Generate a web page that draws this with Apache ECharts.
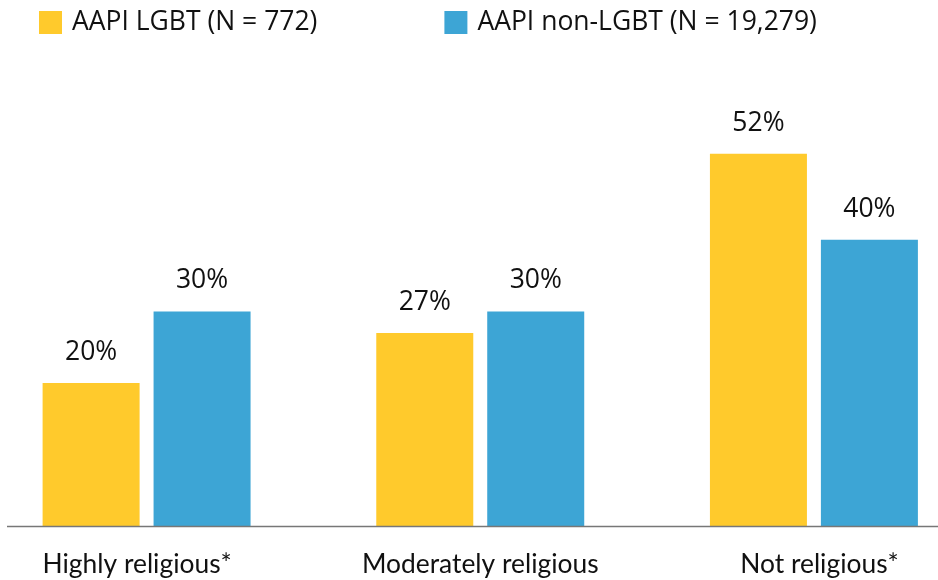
<!DOCTYPE html>
<html><head><meta charset="utf-8">
<script src="https://cdn.jsdelivr.net/npm/echarts@6/dist/echarts.min.js"></script>
<style>html,body{margin:0;padding:0;background:#fff}#c{width:938px;height:580px}</style>
</head><body><div id="c"></div>
<script>
const categories = ['Highly religious*', 'Moderately religious', 'Not religious*'];
const seriesNames = ['AAPI LGBT (N = 772)', 'AAPI non-LGBT (N = 19,279)'];
const lgbtValues = [20, 27, 52];
const nonLgbtValues = [30, 30, 40];
const colors = ['#FFCA2C', '#3DA5D5'];

const chart = echarts.init(document.getElementById('c'), null, {renderer: 'canvas'});
const labelStyle = {show: true, position: 'top', distance: 17, formatter: p => p.value + '%',
  fontFamily: 'Open Sans', fontSize: 26.5, color: '#111'};
const catStyles = ['c0', 'c1', 'c2'];
const baseCat = {fontFamily: 'Lato', fontSize: 26.4, color: '#111'};
chart.setOption({
  animation: false,
  legend: {
    top: 9, left: 39, padding: 0, itemWidth: 23, itemHeight: 23, itemGap: 127, icon: 'rect',
    textStyle: {fontFamily: 'Open Sans', fontSize: 26.5, color: '#111', padding: [0, 0, 0, 5]},
    data: seriesNames
  },
  grid: {left: -20.25, right: -42.75, top: 96.3, bottom: 53.5, outerBoundsMode: 'none', containLabel: false},
  xAxis: {
    type: 'category', data: categories,
    axisLine: {show: false}, axisTick: {show: false},
    axisLabel: {
      interval: 0, hideOverlap: false,
      margin: 25, ...baseCat,
      formatter: (v, i) => '{' + catStyles[i] + '|' + v + '}',
      rich: {
        c0: {...baseCat, padding: [0, 19, 0, 0]},
        c1: {...baseCat},
        c2: {...baseCat, padding: [0, 0, 0, 11]}
      }
    }
  },
  yAxis: {type: 'value', min: 0, max: 60, show: false, splitLine: {show: false}},
  graphic: [{type: 'line', shape: {x1: 7, y1: 526.5, x2: 938, y2: 526.5}, style: {stroke: '#777', lineWidth: 1.5}, z: 10}],
  series: [
    {name: seriesNames[0], type: 'bar', data: lgbtValues, barWidth: 97, barGap: '14.4%', itemStyle: {color: colors[0]}, label: labelStyle},
    {name: seriesNames[1], type: 'bar', data: nonLgbtValues, barWidth: 97, itemStyle: {color: colors[1]}, label: labelStyle}
  ]
});
</script></body></html>
